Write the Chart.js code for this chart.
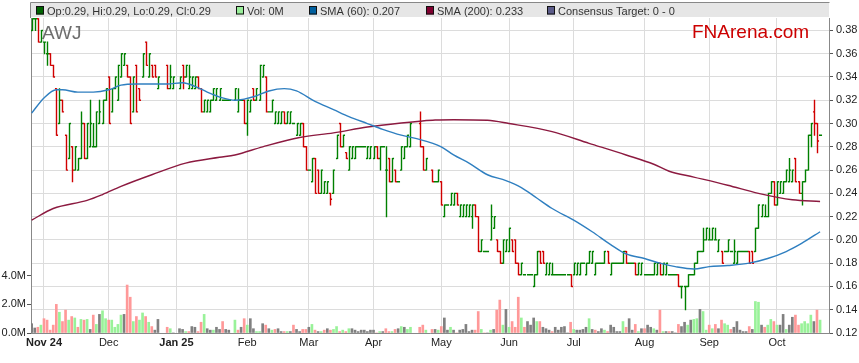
<!DOCTYPE html>
<html>
<head>
<meta charset="utf-8">
<script src="https://cdn.jsdelivr.net/npm/chart.js@4.4.1/dist/chart.umd.min.js"></script>
<style>
  body { margin: 0; background: #fff; }
  #wrap { width: 859px; height: 363px; }
</style>
</head>
<body>
<div id="wrap"><canvas id="awjChart" width="859" height="363"></canvas></div>
<script>
// x position = weekday count from 1 Nov 2024 (index 0); first bar is 28 Oct 2024
const firstDay = -4;
const monthTicks = [0, 21, 43, 66, 86, 107, 129, 151, 172, 195, 216, 238];
const monthLabels = ['Nov 24', 'Dec', 'Jan 25', 'Feb', 'Mar', 'Apr', 'May', 'Jun', 'Jul', 'Aug', 'Sep', 'Oct'];
const boldLabels = ['Nov 24', 'Jan 25'];
const priceTicks = [0.12, 0.14, 0.16, 0.18, 0.20, 0.22, 0.24, 0.26, 0.28, 0.30, 0.32, 0.34, 0.36, 0.38];
const volumeTicks = [0, 2, 4];

// daily prices, one entry per weekday from firstDay (null = market holiday)
const opens = [
  .38,.39,.39,.37,.37,.36,.36,.35,.33,.30,
  .32,.29,.27,.28,.26,.26,.27,.30,.27,.28,
  .28,.28,.30,.30,.32,.34,.31,.33,.32,.34,
  .35,.35,.34,.31,.35,.33,.34,.37,.34,.35,
  .35,.33,null,null,.35,.33,.33,null,.33,.35,
  .34,.33,.33,.33,.34,.33,.31,.31,.31,.32,
  .32,.32,.32,.32,.32,null,.32,.31,.32,.32,
  .30,.31,.33,.32,.32,.34,.34,.31,.31,.30,
  .30,.30,.31,.30,.30,.30,.29,.29,.30,.28,
  .26,.25,.27,.26,.24,.24,.24,.24,.24,.27,
  .30,.28,.275,.26,.27,.27,.28,.28,.28,.27,
  .27,.27,.28,.27,.28,.26,.27,.25,.26,.25,
  .26,.27,.28,.28,null,null,.30,.28,.26,null,
  .26,.25,.25,.25,.22,.23,.23,.23,.24,.22,
  .22,.22,.22,.22,.23,.22,.19,.19,.19,.20,
  .21,.20,.19,.18,.19,.19,.20,.20,.18,.17,
  .17,.17,.17,.16,.17,.19,.19,.17,.17,.17,
  .17,.17,.17,.17,.17,.17,.17,.17,.17,.18,
  .17,.18,.18,.17,.18,.18,.18,.19,.17,.18,
  .18,.18,.18,.19,.18,.18,.18,.17,.17,.17,
  .17,.17,.17,.17,.18,.17,.17,.17,.17,.17,
  .17,.16,.16,.16,.17,.17,.18,.19,.19,.20,
  .20,.20,.20,.19,.19,.19,.19,.19,.18,.18,
  .19,.19,.19,.19,.19,.19,.21,.22,.22,.22,
  .24,.25,.23,.24,.24,.25,.25,.25,.27,.25,
  .24,.25,.26,.29,.31,.30,.29
];
const highs = [
  .39,.39,.39,.38,.37,.37,.36,.35,.33,.33,
  .32,.29,.30,.28,.28,.27,.31,.30,.30,.32,
  .30,.31,.32,.32,.33,.34,.33,.34,.35,.36,
  .36,.35,.34,.34,.35,.33,.36,.37,.36,.35,
  .35,.34,null,null,.35,.35,.34,null,.34,.35,
  .35,.35,.34,.34,.34,.33,.32,.32,.32,.33,
  .33,.33,.32,.32,.32,null,.33,.33,.32,.32,
  .32,.32,.33,.33,.35,.35,.34,.31,.32,.31,
  .31,.31,.31,.31,.31,.30,.30,.30,.30,.28,
  .26,.27,.27,.26,.26,.25,.25,.24,.26,.29,
  .30,.29,.275,.28,.28,.28,.28,.28,.28,.28,
  .28,.28,.28,.28,.28,.28,.27,.27,.26,.25,
  .28,.28,.29,.30,null,null,.31,.28,.27,null,
  .26,.25,.26,.25,.23,.23,.24,.24,.24,.23,
  .23,.23,.23,.23,.23,.22,.20,.19,.19,.23,
  .22,.20,.19,.20,.20,.21,.20,.20,.18,.18,
  .17,.17,.17,.17,.19,.19,.19,.18,.18,.18,
  .17,.17,.17,.17,.17,.17,.18,.18,.18,.18,
  .18,.19,.19,.18,.18,.18,.19,.19,.18,.18,
  .18,.18,.19,.19,.18,.18,.18,.18,.18,.17,
  .17,.17,.18,.18,.18,.18,.18,.17,.17,.17,
  .17,.16,.16,.17,.17,.18,.19,.19,.21,.21,
  .21,.21,.21,.20,.19,.19,.20,.19,.20,.19,
  .19,.19,.19,.19,.19,.21,.23,.23,.23,.24,
  .25,.25,.25,.25,.25,.26,.27,.26,.27,.25,
  .25,.26,.29,.30,.32,.30,.29
];
const lows = [
  .38,.38,.37,.37,.36,.35,.35,.34,.29,.30,
  .31,.26,.27,.25,.26,.26,.27,.27,.27,.28,
  .28,.28,.30,.30,.32,.30,.31,.33,.32,.34,
  .35,.34,.30,.31,.31,.32,.34,.35,.34,.34,
  .34,.33,null,null,.33,.33,.33,null,.33,.33,
  .34,.33,.33,.33,.33,.31,.31,.31,.31,.32,
  .32,.32,.32,.32,.32,null,.32,.31,.32,.30,
  .29,.31,.32,.32,.32,.34,.31,.31,.31,.30,
  .30,.30,.30,.30,.30,.30,.29,.29,.28,.26,
  .26,.25,.24,.24,.24,.24,.24,.23,.24,.27,
  .28,.28,.27,.26,.27,.27,.28,.28,.28,.27,
  .27,.27,.27,.26,.28,.22,.25,.25,.25,.25,
  .26,.27,.28,.28,null,null,.28,.26,.26,null,
  .25,.25,.25,.23,.22,.23,.23,.23,.23,.22,
  .22,.22,.22,.21,.22,.19,.19,.19,.19,.20,
  .21,.19,.18,.18,.19,.19,.19,.18,.17,.17,
  .17,.17,.17,.16,.17,.18,.18,.17,.17,.17,
  .17,.17,.17,.17,.17,.16,.17,.17,.17,.18,
  .17,.18,.18,.17,.18,.18,.18,.18,.17,.18,
  .18,.18,.18,.18,.18,.18,.17,.17,.17,.17,
  .17,.17,.17,.17,.17,.17,.17,.17,.17,.17,
  .16,.15,.14,.16,.17,.17,.18,.19,.19,.20,
  .20,.20,.20,.19,.18,.19,.19,.19,.18,.18,
  .19,.19,.19,.18,.18,.19,.21,.22,.22,.22,
  .24,.23,.23,.24,.24,.25,.25,.25,.25,.24,
  .23,.25,.26,.28,.29,.275,.29
];
const closes = [
  .39,.39,.37,.38,.37,.36,.35,.34,.29,.32,
  .31,.26,.30,.26,.28,.27,.30,.27,.30,.30,
  .28,.31,.31,.32,.33,.30,.33,.34,.35,.36,
  .36,.34,.30,.34,.31,.32,.36,.35,.36,.34,
  .34,.34,null,null,.33,.34,.34,null,.34,.34,
  .35,.34,.34,.34,.33,.31,.32,.32,.32,.33,
  .33,.33,.32,.32,.32,null,.33,.32,.32,.30,
  .32,.32,.32,.33,.35,.35,.31,.31,.32,.31,
  .31,.31,.30,.31,.31,.30,.30,.30,.28,.26,
  .26,.27,.24,.24,.26,.25,.25,.235,.26,.29,
  .28,.29,.27,.28,.28,.28,.28,.28,.28,.28,
  .28,.28,.27,.28,.28,.26,.25,.27,.25,.25,
  .28,.28,.29,.30,null,null,.28,.26,.27,null,
  .25,.25,.26,.23,.23,.23,.24,.24,.23,.23,
  .23,.23,.23,.23,.22,.19,.20,.19,.19,.22,
  .22,.19,.18,.20,.20,.21,.19,.18,.17,.18,
  .17,.17,.17,.17,.19,.18,.18,.18,.18,.17,
  .17,.17,.17,.17,.17,.16,.18,.18,.18,.18,
  .18,.19,.19,.18,.18,.18,.19,.18,.18,.18,
  .18,.18,.19,.18,.18,.18,.17,.18,.18,.17,
  .17,.17,.18,.18,.17,.18,.18,.17,.17,.17,
  .16,.16,.16,.17,.17,.18,.19,.19,.20,.21,
  .20,.21,.20,.20,.18,.19,.20,.19,.19,.19,
  .19,.19,.19,.18,.18,.21,.23,.23,.22,.24,
  .25,.23,.25,.25,.25,.26,.26,.26,.25,.24,
  .25,.26,.29,.30,.30,.285,.29
];
// volume in millions of shares
const volumes = [
  .65,.35,.4,.55,1.0,.9,.2,.55,2.0,1.45,
  .8,1.6,.9,1.15,1.05,.4,.95,.9,.95,.25,
  1.25,.6,1.3,1.55,1.0,.9,.9,.4,.6,1.25,
  1.3,3.35,2.5,.8,1.15,.9,1.4,1.15,.75,.45,
  .2,.95,null,null,.4,.3,0,null,.3,.25,
  .1,.1,.45,.4,.1,.75,1.3,.3,.2,.2,
  .4,.25,.8,.25,.2,null,.9,.2,.4,1.0,
  .55,1.0,.3,.1,.1,.65,.55,.3,.2,.25,
  .3,.1,.1,.1,.1,.55,.25,.1,.25,.25,
  .4,.6,.2,.1,.1,.2,.3,.2,.25,.45,
  .1,.2,.1,.3,.3,.2,.1,.2,.2,.1,
  .2,.2,0,.1,.1,.3,.1,.1,.25,.3,
  .45,.4,.25,.4,null,null,.4,.55,.2,null,
  .25,.25,.2,.45,1.05,.2,.4,.2,0,.2,
  .25,.6,.1,.2,.2,1.5,.25,0,0,.2,
  .25,1.6,2.3,.55,1.65,.4,.8,.4,2.5,1.05,
  .4,.8,.55,1.05,.8,.8,.4,.3,.2,.1,
  .4,.2,.4,.45,0,.75,.25,.2,.2,.25,
  .4,1.0,.25,.2,.1,.3,.2,.1,.55,.4,
  .1,.1,.8,.4,1.0,.2,.6,.1,.3,.3,
  .55,.4,.3,.2,1.6,.1,.1,.1,.1,0,
  .6,.45,.75,.55,.9,.95,1.0,1.65,1.5,.2,
  .55,.3,.6,.3,.9,.65,.55,.25,.4,.8,
  .2,.1,.1,.45,.25,2.2,2.15,.55,.4,.55,
  .95,.8,.55,.55,1.3,.25,.55,1.1,1.25,.55,
  .65,.8,.65,1.25,.8,1.6,.9
];
// moving averages
const sma60Days = [-4, 0, 4, 6, 11, 16, 21, 25, 30, 36, 40, 45, 49, 53, 58, 62, 65, 68, 73, 78, 82, 88, 94, 99, 105, 110, 116, 121, 129, 133, 138, 144, 150, 155, 160, 165, 172, 178, 184, 189, 195, 200, 205, 211, 216, 222, 229, 235, 241, 246, 252];
const sma60 = [.309, .322, .329, .329, .327, .327, .329, .333, .334, .334, .334, .335, .332, .327, .322, .320, .321, .323, .328, .330, .328, .319, .312, .306, .300, .295, .290, .287, .280, .273, .266, .256, .251, .245, .236, .227, .217, .207, .196, .188, .184, .180, .177, .175, .177, .178, .180, .184, .190, .197, .207];
const sma200Days = [-4, 3, 14, 19, 25, 35, 46, 57, 62, 71, 83, 94, 105, 116, 122, 127, 133, 144, 151, 165, 177, 189, 198, 203, 211, 222, 232, 243, 252];
const sma200 = [.217, .227, .234, .239, .246, .256, .266, .271, .273, .280, .288, .292, .297, .3005, .302, .303, .3033, .3028, .300, .293, .283, .273, .265, .259, .254, .247, .240, .2345, .233];

const FONT = 'Liberation Sans, Arial, sans-serif';
const UP = '#008000', DOWN = '#d00000';

// volume colour follows the close versus the previous close
let lastClose = null;
const volColors = closes.map(c => {
    let col = '#808080';
    if (c !== null && lastClose !== null) {
        if (c > lastClose) col = '#99f299';
        else if (c < lastClose) col = '#ff9999';
    }
    if (c !== null) lastClose = c;
    return col;
});

const ohlcBars = {
    id: 'ohlcBars',
    beforeDatasetsDraw(chart) {
        const { ctx, chartArea, scales } = chart;
        const xs = scales.x, ys = scales.y;
        ctx.save();
        // watermarks
        ctx.font = '19px ' + FONT;
        ctx.fillStyle = '#6e6e6e';
        ctx.textBaseline = 'alphabetic';
        ctx.fillText('AWJ', 42, 39);
        ctx.fillStyle = '#cc0000';
        ctx.fillText('FNArena.com', 692, 38);

        ctx.beginPath();
        ctx.rect(chartArea.left, chartArea.top, chartArea.width, chartArea.height);
        ctx.clip();
        const half = (xs.getPixelForValue(1) - xs.getPixelForValue(0)) / 2;
        ctx.lineWidth = 1.4;
        opens.forEach((o, k) => {
            if (o === null) return;
            const px = Math.round(xs.getPixelForValue(firstDay + k)) + 0.5;
            const yo = ys.getPixelForValue(o), yc = ys.getPixelForValue(closes[k]);
            const yh = ys.getPixelForValue(highs[k]), yl = ys.getPixelForValue(lows[k]);
            ctx.strokeStyle = closes[k] >= o ? UP : DOWN;
            ctx.beginPath();
            ctx.moveTo(px, yh - 0.5);
            ctx.lineTo(px, yl + 0.5);
            ctx.moveTo(px - half, yo);
            ctx.lineTo(px, yo);
            ctx.moveTo(px, yc);
            ctx.lineTo(px + half, yc);
            ctx.stroke();
        });
        ctx.restore();
    }
};

const topLegend = {
    id: 'topLegend',
    afterDraw(chart) {
        const { ctx, chartArea } = chart;
        ctx.save();
        ctx.fillStyle = '#e6e6e6';
        ctx.fillRect(chartArea.left, 3, chartArea.width, 14);
        ctx.strokeStyle = '#888';
        ctx.lineWidth = 1;
        ctx.beginPath();
        ctx.moveTo(chartArea.left - 0.5, 2.5);
        ctx.lineTo(chartArea.right + 0.5, 2.5);
        ctx.moveTo(chartArea.left - 0.5, 2.5);
        ctx.lineTo(chartArea.left - 0.5, chartArea.top);
        ctx.stroke();
        const items = [
            [36, '#006400', 'Op:0.29, Hi:0.29, Lo:0.29, Cl:0.29'],
            [236, '#99ee99', 'Vol: 0M'],
            [309, '#005f9e', 'SMA (60): 0.207'],
            [426, '#800030', 'SMA (200): 0.233'],
            [547, '#5c5c8a', 'Consensus Target: 0 - 0']
        ];
        ctx.font = '11px ' + FONT;
        ctx.textBaseline = 'alphabetic';
        items.forEach(([x, col, text]) => {
            ctx.fillStyle = col;
            ctx.fillRect(x, 6.5, 8, 8);
            ctx.strokeStyle = '#111';
            ctx.strokeRect(x + 0.5, 6.5, 7, 7.5);
            ctx.fillStyle = '#333';
            ctx.fillText(text, x + 11, 15);
        });
        ctx.restore();
    }
};

new Chart(document.getElementById('awjChart').getContext('2d'), {
    type: 'bar',
    data: {
        datasets: [
            {
                type: 'line',
                label: 'SMA (60)',
                data: sma60Days.map((d, k) => ({ x: d, y: sma60[k] })),
                yAxisID: 'y',
                borderColor: '#2f7fc0',
                borderWidth: 1.4,
                pointRadius: 0,
                cubicInterpolationMode: 'monotone',
                order: 1
            },
            {
                type: 'line',
                label: 'SMA (200)',
                data: sma200Days.map((d, k) => ({ x: d, y: sma200[k] })),
                yAxisID: 'y',
                borderColor: '#8c1a40',
                borderWidth: 1.4,
                pointRadius: 0,
                cubicInterpolationMode: 'monotone',
                order: 2
            },
            {
                type: 'bar',
                label: 'Vol',
                data: volumes.map((v, k) => ({ x: firstDay + k, y: v })),
                yAxisID: 'yv',
                backgroundColor: volColors,
                barThickness: 2,
                order: 3
            }
        ]
    },
    options: {
        responsive: false,
        animation: false,
        devicePixelRatio: 1,
        layout: { padding: { top: 18, left: 0, right: 0, bottom: 0 } },
        plugins: { legend: { display: false }, tooltip: { enabled: false } },
        scales: {
            x: {
                type: 'linear',
                min: -4.22,
                max: 254.9,
                offset: false,
                afterBuildTicks: s => { s.ticks = monthTicks.map(v => ({ value: v })); },
                afterFit: s => { s.height = 30; },
                ticks: {
                    autoSkip: false,
                    maxRotation: 0,
                    padding: 3,
                    color: '#222',
                    font: c => ({ family: FONT, size: 11, weight: c.tick && boldLabels.includes(monthLabels[monthTicks.indexOf(c.tick.value)]) ? 'bold' : 'normal' }),
                    callback: v => monthLabels[monthTicks.indexOf(v)]
                },
                grid: { color: '#dcdcdc', drawTicks: false, offset: false },
                border: { color: '#888' }
            },
            y: {
                position: 'right',
                min: 0.12,
                max: 0.3907,
                afterBuildTicks: s => { s.ticks = priceTicks.map(v => ({ value: v })); },
                afterFit: s => { s.width = 30; },
                ticks: {
                    padding: 3,
                    color: '#222',
                    font: { family: FONT, size: 11 },
                    callback: v => v.toFixed(2)
                },
                grid: { color: '#dcdcdc', tickLength: 4, tickColor: '#555' },
                border: { color: '#888' }
            },
            yv: {
                position: 'left',
                min: 0,
                max: 22,
                afterBuildTicks: s => { s.ticks = volumeTicks.map(v => ({ value: v })); },
                afterFit: s => { s.width = 31; },
                ticks: {
                    padding: 1,
                    color: '#222',
                    font: { family: FONT, size: 11 },
                    callback: v => v.toFixed(1) + 'M'
                },
                grid: { drawOnChartArea: false, tickLength: 4, color: '#555' },
                border: { color: '#888' }
            }
        }
    },
    plugins: [ohlcBars, topLegend]
});
</script>
</body>
</html>
